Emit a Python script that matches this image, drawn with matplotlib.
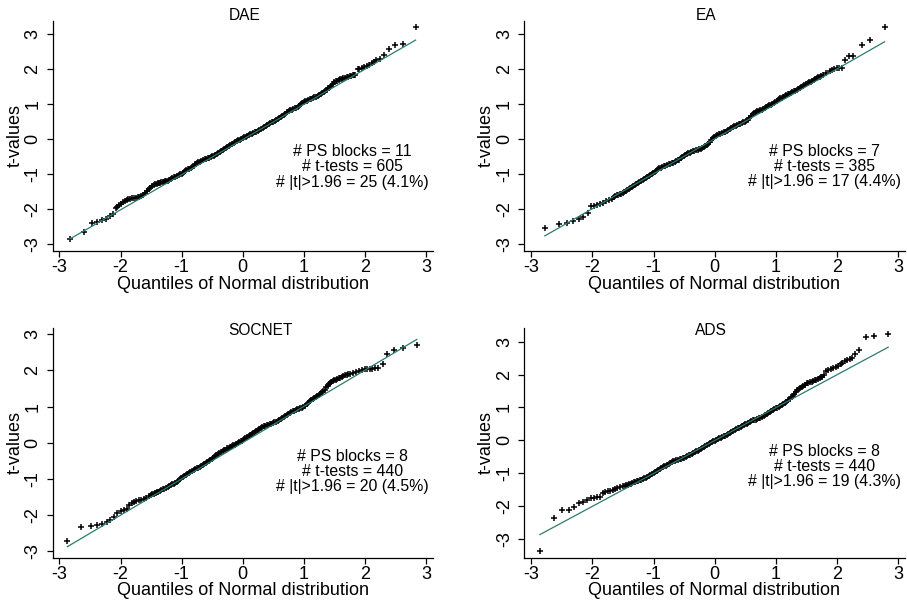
import matplotlib
matplotlib.use("Agg")
import matplotlib.pyplot as plt

plt.rcParams['font.family'] = ['Liberation Sans', 'DejaVu Sans']
plt.rcParams['axes.unicode_minus'] = False

# ---------------- data ----------------
titles = ["DAE", "EA", "SOCNET", "ADS"]
n_blocks = [11, 7, 8, 8]
n_tests = [605, 385, 440, 440]
n_sig = [25, 17, 20, 19]
pct_sig = ["4.1%", "4.4%", "4.5%", "4.3%"]

# (normal quantile, t-value) pairs of the Q-Q plots
dae_qt = [(-2.83,-2.87),(-2.60,-2.66),(-2.47,-2.40),(-2.38,-2.39),(-2.30,-2.33),(-2.23,-2.28),
          (-2.17,-2.22),(-2.12,-2.15),(-2.08,-1.98),(-2.05,-1.94),(-2.02,-1.90),(-1.99,-1.85),
          (-1.96,-1.80),(-1.93,-1.77),(-1.90,-1.75),(-1.87,-1.73),(-1.84,-1.71),(-1.81,-1.70),
          (-1.78,-1.69),(-1.75,-1.68),(-1.72,-1.67),(-1.69,-1.65),(-1.66,-1.63),(-1.63,-1.59),
          (-1.60,-1.54),(-1.57,-1.49),(-1.54,-1.43),(-1.51,-1.39),(-1.48,-1.35),
          (-1.45,-1.32),(-1.43,-1.30),(-1.41,-1.29),(-1.39,-1.27),(-1.37,-1.26),(-1.35,-1.25),
          (-1.33,-1.24),(-1.31,-1.23),(-1.29,-1.22),(-1.27,-1.21),(-1.25,-1.20),(-1.225,-1.19),
          (-1.20,-1.17),(-1.175,-1.15),(-1.15,-1.12),(-1.125,-1.10),(-1.10,-1.08),(-1.075,-1.06),
          (-1.05,-1.03),(-1.025,-1.01),(-1.00,-0.99),(-0.975,-0.96),(-0.95,-0.93),(-0.925,-0.90),
          (-0.90,-0.87),(-0.875,-0.85),(-0.85,-0.82),(-0.825,-0.79),(-0.80,-0.76),(-0.775,-0.73),
          (-0.75,-0.70),(-0.725,-0.67),(-0.70,-0.65),(-0.675,-0.62),(-0.65,-0.60),(-0.625,-0.58),
          (-0.60,-0.57),(-0.575,-0.55),(-0.55,-0.54),(-0.525,-0.52),(-0.50,-0.50),(-0.475,-0.48),
          (-0.45,-0.46),(-0.425,-0.43),(-0.40,-0.40),(-0.375,-0.38),(-0.35,-0.35),(-0.325,-0.32),
          (-0.30,-0.29),(-0.275,-0.26),(-0.25,-0.23),(-0.225,-0.20),(-0.20,-0.17),(-0.175,-0.14),
          (-0.15,-0.12),(-0.125,-0.09),(-0.10,-0.07),(-0.075,-0.04),(-0.05,-0.02),(-0.025,0.01),
          (0.00,0.03),(0.025,0.05),(0.05,0.07),(0.075,0.09),(0.10,0.11),(0.125,0.13),(0.15,0.15),
          (0.175,0.17),(0.20,0.19),(0.225,0.21),(0.25,0.23),(0.275,0.25),(0.30,0.28),(0.325,0.31),
          (0.35,0.34),(0.375,0.37),(0.40,0.40),(0.425,0.43),(0.45,0.45),(0.475,0.48),(0.50,0.50),
          (0.525,0.52),(0.55,0.55),(0.575,0.58),(0.60,0.61),(0.625,0.64),(0.65,0.67),(0.675,0.70),
          (0.70,0.73),(0.725,0.76),(0.75,0.79),(0.775,0.82),(0.80,0.84),(0.825,0.86),(0.85,0.88),
          (0.875,0.90),(0.90,0.93),(0.925,0.96),(0.95,0.99),(0.975,1.02),(1.00,1.05),(1.025,1.08),
          (1.05,1.10),(1.075,1.12),(1.10,1.14),(1.125,1.16),(1.15,1.17),(1.175,1.19),(1.20,1.21),
          (1.225,1.23),(1.25,1.26),(1.275,1.29),(1.30,1.32),(1.325,1.35),(1.35,1.38),(1.375,1.41),
          (1.40,1.45),(1.425,1.49),(1.45,1.53),(1.475,1.58),(1.50,1.62),(1.525,1.65),(1.55,1.67),
          (1.575,1.69),(1.60,1.71),(1.625,1.73),(1.65,1.74),(1.675,1.76),(1.70,1.77),(1.725,1.79),
          (1.75,1.80),(1.775,1.81),(1.80,1.82),(1.82,1.83),(1.84,1.84),
          (1.88,2.00),(1.91,2.02),(1.95,2.04),(1.99,2.06),(2.03,2.08),
          (2.07,2.12),(2.11,2.18),(2.15,2.21),(2.19,2.25),(2.25,2.30),(2.32,2.41),(2.39,2.58),
          (2.50,2.70),(2.62,2.71),(2.83,3.22)]

ea_qt = [(-2.78,-2.54),(-2.54,-2.43),(-2.41,-2.40),(-2.31,-2.35),(-2.22,-2.29),(-2.15,-2.23),
         (-2.08,-2.13),(-2.03,-1.93),(-1.98,-1.92),(-1.93,-1.90),(-1.88,-1.88),(-1.83,-1.84),
         (-1.78,-1.79),(-1.73,-1.76),
         (-1.68,-1.71),(-1.655,-1.67),(-1.63,-1.64),(-1.605,-1.62),(-1.58,-1.61),(-1.555,-1.59),
         (-1.53,-1.57),(-1.505,-1.55),(-1.48,-1.53),(-1.455,-1.50),(-1.43,-1.47),(-1.405,-1.44),
         (-1.38,-1.41),(-1.355,-1.38),(-1.33,-1.35),(-1.305,-1.32),(-1.28,-1.30),(-1.255,-1.27),
         (-1.23,-1.24),(-1.205,-1.21),(-1.18,-1.18),(-1.155,-1.15),(-1.13,-1.13),(-1.105,-1.10),
         (-1.08,-1.08),(-1.055,-1.05),(-1.03,-1.02),(-1.005,-0.98),(-0.98,-0.95),(-0.955,-0.91),
         (-0.93,-0.88),(-0.905,-0.85),(-0.88,-0.83),(-0.855,-0.81),(-0.83,-0.79),(-0.805,-0.77),
         (-0.78,-0.75),(-0.755,-0.73),(-0.73,-0.72),(-0.705,-0.70),(-0.68,-0.69),(-0.655,-0.67),
         (-0.63,-0.65),(-0.605,-0.62),(-0.58,-0.60),(-0.555,-0.56),(-0.53,-0.53),(-0.505,-0.50),
         (-0.48,-0.47),(-0.455,-0.44),(-0.43,-0.42),(-0.405,-0.40),(-0.38,-0.38),(-0.355,-0.36),
         (-0.33,-0.35),(-0.305,-0.33),(-0.28,-0.32),(-0.255,-0.30),(-0.23,-0.29),(-0.205,-0.27),
         (-0.18,-0.25),(-0.155,-0.22),(-0.13,-0.19),(-0.105,-0.15),(-0.08,-0.10),(-0.055,-0.04),
         (-0.03,0.01),(-0.005,0.05),(0.02,0.08),(0.045,0.10),(0.07,0.12),(0.095,0.14),(0.12,0.16),
         (0.145,0.18),(0.17,0.20),(0.195,0.22),(0.22,0.24),(0.245,0.27),(0.27,0.30),(0.295,0.33),
         (0.32,0.35),(0.345,0.37),(0.37,0.39),(0.395,0.41),(0.42,0.43),(0.445,0.45),(0.47,0.47),
         (0.495,0.49),(0.52,0.51),(0.545,0.54),(0.57,0.58),(0.595,0.64),(0.62,0.71),(0.645,0.74),
         (0.67,0.76),(0.695,0.78),(0.72,0.80),(0.745,0.82),(0.77,0.83),(0.795,0.85),(0.82,0.87),
         (0.845,0.90),(0.87,0.92),(0.895,0.95),(0.92,0.97),(0.945,1.00),(0.97,1.02),(0.995,1.06),
         (1.02,1.09),(1.045,1.12),(1.07,1.15),(1.095,1.17),(1.12,1.19),(1.145,1.22),(1.17,1.24),
         (1.195,1.27),(1.22,1.29),(1.245,1.31),(1.27,1.33),(1.295,1.35),(1.32,1.37),(1.345,1.40),
         (1.37,1.42),(1.395,1.45),(1.42,1.47),(1.445,1.50),(1.47,1.52),(1.495,1.55),(1.52,1.58),
         (1.545,1.61),(1.57,1.63),(1.595,1.65),(1.62,1.67),(1.645,1.70),(1.67,1.72),(1.695,1.75),
         (1.72,1.77),(1.745,1.80),(1.77,1.82),
         (1.83,1.87),(1.88,1.93),(1.92,1.97),(1.96,2.00),(2.00,2.01),(2.04,2.01),
         (2.08,2.02),(2.14,2.25),(2.20,2.36),(2.27,2.36),(2.41,2.68),(2.54,2.83),(2.78,3.20)]

socnet_qt = [(-2.87,-2.71),(-2.64,-2.34),(-2.49,-2.29),(-2.38,-2.28),(-2.30,-2.25),(-2.22,-2.18),
             (-2.17,-2.14),(-2.11,-2.05),(-2.05,-1.94),(-2.00,-1.88),(-1.95,-1.85),(-1.90,-1.82),
             (-1.86,-1.72),(-1.82,-1.66),(-1.78,-1.63),(-1.74,-1.61),(-1.70,-1.59),(-1.66,-1.58),
             (-1.62,-1.56),(-1.58,-1.53),(-1.54,-1.48),
             (-1.50,-1.45),(-1.48,-1.43),(-1.46,-1.42),(-1.44,-1.40),(-1.42,-1.39),(-1.40,-1.37),
             (-1.38,-1.35),(-1.355,-1.33),(-1.33,-1.31),(-1.305,-1.29),(-1.28,-1.27),(-1.255,-1.25),
             (-1.23,-1.23),(-1.205,-1.21),(-1.18,-1.18),(-1.155,-1.15),(-1.13,-1.13),(-1.105,-1.11),
             (-1.08,-1.08),(-1.055,-1.05),(-1.03,-1.01),(-1.005,-0.98),(-0.98,-0.95),(-0.955,-0.92),
             (-0.93,-0.89),(-0.905,-0.86),(-0.88,-0.83),(-0.855,-0.80),(-0.83,-0.78),(-0.805,-0.75),
             (-0.78,-0.73),(-0.755,-0.71),(-0.73,-0.69),(-0.705,-0.67),(-0.68,-0.65),(-0.655,-0.63),
             (-0.63,-0.60),(-0.605,-0.57),(-0.58,-0.54),(-0.555,-0.50),(-0.53,-0.47),(-0.505,-0.44),
             (-0.48,-0.41),(-0.455,-0.38),(-0.43,-0.35),(-0.405,-0.32),(-0.38,-0.29),(-0.355,-0.26),
             (-0.33,-0.24),(-0.305,-0.21),(-0.28,-0.19),(-0.255,-0.16),(-0.23,-0.14),(-0.205,-0.11),
             (-0.18,-0.09),(-0.155,-0.07),(-0.13,-0.05),(-0.105,-0.03),(-0.08,-0.01),(-0.055,0.01),
             (-0.03,0.04),(-0.005,0.06),(0.02,0.09),(0.045,0.12),(0.07,0.15),(0.095,0.18),(0.12,0.21),
             (0.145,0.24),(0.17,0.27),(0.195,0.30),(0.22,0.33),(0.245,0.36),(0.27,0.39),(0.295,0.41),
             (0.32,0.43),(0.345,0.45),(0.37,0.46),(0.395,0.48),(0.42,0.49),(0.445,0.51),(0.47,0.52),
             (0.495,0.54),(0.52,0.56),(0.545,0.58),(0.57,0.60),(0.595,0.62),(0.62,0.65),(0.645,0.68),
             (0.67,0.71),(0.695,0.74),(0.72,0.77),(0.745,0.80),(0.77,0.82),(0.795,0.85),(0.82,0.87),
             (0.845,0.89),(0.87,0.91),(0.895,0.93),(0.92,0.94),(0.945,0.96),(0.97,0.97),(0.995,0.99),
             (1.02,1.02),(1.045,1.06),(1.07,1.10),(1.095,1.14),(1.12,1.18),(1.145,1.21),(1.17,1.24),
             (1.195,1.27),(1.22,1.30),(1.245,1.33),(1.27,1.36),(1.295,1.39),(1.32,1.42),(1.345,1.47),
             (1.37,1.53),(1.39,1.58),(1.41,1.63),(1.43,1.66),(1.45,1.68),(1.475,1.70),(1.50,1.72),
             (1.525,1.74),(1.55,1.76),(1.575,1.78),(1.60,1.80),(1.625,1.82),(1.65,1.84),(1.675,1.86),
             (1.70,1.87),(1.725,1.89),(1.75,1.90),
             (1.80,1.93),(1.85,1.96),(1.90,1.98),(1.95,2.01),(2.00,2.03),(2.04,2.04),(2.08,2.04),
             (2.12,2.05),(2.17,2.06),(2.22,2.07),(2.29,2.17),(2.37,2.46),(2.48,2.56),(2.62,2.63),
             (2.85,2.69)]

ads_qt = [(-2.86,-3.37),(-2.63,-2.38),(-2.49,-2.13),(-2.38,-2.13),(-2.30,-2.02),(-2.22,-1.92),
          (-2.15,-1.87),(-2.09,-1.82),(-2.03,-1.76),(-1.98,-1.75),(-1.93,-1.74),(-1.88,-1.72),
          (-1.83,-1.62),(-1.79,-1.57),(-1.75,-1.55),(-1.71,-1.54),(-1.67,-1.51),(-1.63,-1.49),
          (-1.59,-1.46),(-1.55,-1.44),
          (-1.50,-1.40),(-1.475,-1.38),(-1.45,-1.37),(-1.425,-1.35),(-1.40,-1.34),(-1.375,-1.32),
          (-1.35,-1.30),(-1.325,-1.28),(-1.30,-1.27),(-1.275,-1.25),(-1.25,-1.23),(-1.225,-1.21),
          (-1.20,-1.20),(-1.175,-1.18),(-1.15,-1.16),(-1.125,-1.14),(-1.10,-1.12),(-1.075,-1.09),
          (-1.05,-1.06),(-1.025,-1.03),(-1.00,-1.01),(-0.975,-0.98),(-0.95,-0.95),(-0.925,-0.91),
          (-0.90,-0.88),(-0.875,-0.85),(-0.85,-0.83),(-0.825,-0.80),(-0.80,-0.77),(-0.775,-0.74),
          (-0.75,-0.72),(-0.725,-0.69),(-0.70,-0.67),(-0.675,-0.64),(-0.65,-0.62),(-0.625,-0.60),
          (-0.60,-0.59),(-0.575,-0.57),(-0.55,-0.56),(-0.525,-0.54),(-0.50,-0.53),(-0.475,-0.51),
          (-0.45,-0.49),(-0.425,-0.46),(-0.40,-0.44),(-0.375,-0.41),(-0.35,-0.39),(-0.325,-0.36),
          (-0.30,-0.34),(-0.275,-0.32),(-0.25,-0.30),(-0.225,-0.27),(-0.20,-0.24),(-0.175,-0.20),
          (-0.15,-0.17),(-0.125,-0.14),(-0.10,-0.11),(-0.075,-0.08),(-0.05,-0.06),(-0.025,-0.03),
          (0.00,-0.01),(0.025,0.02),(0.05,0.04),(0.075,0.06),(0.10,0.08),(0.125,0.10),(0.15,0.12),
          (0.175,0.14),(0.20,0.17),(0.225,0.20),(0.25,0.22),(0.275,0.24),(0.30,0.27),(0.325,0.30),
          (0.35,0.33),(0.375,0.36),(0.40,0.38),(0.425,0.40),(0.45,0.43),(0.475,0.45),(0.50,0.48),
          (0.525,0.51),(0.55,0.54),(0.575,0.57),(0.60,0.59),(0.625,0.61),(0.65,0.62),(0.675,0.63),
          (0.70,0.65),(0.725,0.67),(0.75,0.69),(0.775,0.72),(0.80,0.75),(0.825,0.78),(0.85,0.81),
          (0.875,0.84),(0.90,0.87),(0.925,0.90),(0.95,0.92),(0.975,0.95),(1.00,0.97),(1.025,0.99),
          (1.05,1.01),(1.075,1.03),(1.10,1.06),(1.125,1.09),(1.15,1.12),(1.175,1.17),(1.20,1.22),
          (1.225,1.27),(1.25,1.31),(1.275,1.35),(1.30,1.40),(1.325,1.46),(1.35,1.53),(1.375,1.56),
          (1.40,1.59),(1.425,1.62),(1.45,1.65),(1.48,1.69),(1.51,1.73),(1.535,1.75),(1.56,1.77),
          (1.585,1.79),(1.61,1.81),(1.635,1.83),(1.66,1.84),(1.69,1.87),(1.72,1.89),(1.74,1.92),
          (1.76,1.94),
          (1.79,1.99),(1.83,2.11),(1.86,2.14),(1.90,2.18),(1.94,2.21),(1.98,2.24),(2.02,2.27),
          (2.06,2.31),(2.09,2.35),(2.13,2.40),(2.17,2.45),(2.21,2.49),(2.24,2.52),(2.30,2.62),
          (2.36,2.75),(2.48,3.16),(2.61,3.17),(2.84,3.24)]

panel_points = [dae_qt, ea_qt, socnet_qt, ads_qt]
# reference line: t = mu + sd * q
line_mu = [-0.015, -0.005, 0.0, -0.01]
line_sd = [1.007, 0.997, 1.002, 1.002]

xticks = [-3, -2, -1, 0, 1, 2, 3]
yticks = [-3, -2, -1, 0, 1, 2, 3]

# ---------------- layout (pixels) ----------------
W, H = 907, 603
fig = plt.figure(figsize=(W / 100, H / 100), dpi=100)

ax_px = [  # left, right, top, bottom
    (52.7, 433.0, 20.7, 250.7),
    (524.0, 904.7, 20.7, 250.7),
    (52.7, 433.0, 327.7, 557.7),
    (524.0, 904.7, 327.7, 557.7),
]
xlims = [(-3.11, 3.115), (-3.12, 3.11), (-3.11, 3.115), (-3.12, 3.11)]
ylims = [(-3.20, 3.39), (-3.20, 3.37), (-3.18, 3.18), (-3.58, 3.43)]
title_px = [(228.3, 15.0), (695.3, 15.0), (228.3, 330.7), (695.3, 330.7)]
xlabel_y = [284.0, 284.0, 590.7, 590.7]
ylabel_x = [15.0, 486.3, 15.0, 486.3]

line_color = "#2b7b72"

for i in range(4):
    l, r, t, b = ax_px[i]
    ax = fig.add_axes([l / W, 1 - b / H, (r - l) / W, (b - t) / H])
    pts = panel_points[i]
    qs = [p[0] for p in pts]
    ts = [p[1] for p in pts]
    qmin, qmax = min(qs), max(qs)
    ax.plot([qmin, qmax], [line_mu[i] + line_sd[i] * qmin, line_mu[i] + line_sd[i] * qmax],
            color=line_color, lw=0.9, zorder=3)
    ax.plot(qs, ts, linestyle="none", marker="+", color="black", ms=4.5, mew=1.1, zorder=2)
    ax.set_xlim(*xlims[i])
    ax.set_ylim(*ylims[i])
    for s in ("top", "right"):
        ax.spines[s].set_visible(False)
    for s in ("left", "bottom"):
        ax.spines[s].set_linewidth(0.9)
    ax.set_xticks(xticks)
    ax.set_xticklabels([str(v) for v in xticks])
    ax.set_yticks(yticks)
    ax.set_yticklabels([str(v) for v in yticks])
    ax.tick_params(axis="both", direction="out", length=4, width=0.9, labelsize=13)
    ax.tick_params(axis="x", pad=2)
    ax.tick_params(axis="y", pad=4)
    for lab in ax.get_yticklabels():
        lab.set_rotation(90)
        lab.set_va("center")
        lab.set_ha("right")
    ax.text(1.8, -0.8,
            f"# PS blocks = {n_blocks[i]}\n# t-tests = {n_tests[i]}\n# |t|>1.96 = {n_sig[i]} ({pct_sig[i]})",
            ha="center", va="center", fontsize=11.4, linespacing=1.02, zorder=4)
    tx, ty = title_px[i]
    fig.text(tx / W, 1 - ty / H, titles[i], ha="left", va="center", fontsize=11.2)
    fig.text(((l + r) / 2) / W, 1 - xlabel_y[i] / H, "Quantiles of Normal distribution",
             ha="center", va="center", fontsize=13)
    fig.text(ylabel_x[i] / W, 1 - ((t + b) / 2) / H, "t-values",
             ha="center", va="center", rotation=90, fontsize=13)

fig.savefig("out.png", dpi=100, facecolor="white")
